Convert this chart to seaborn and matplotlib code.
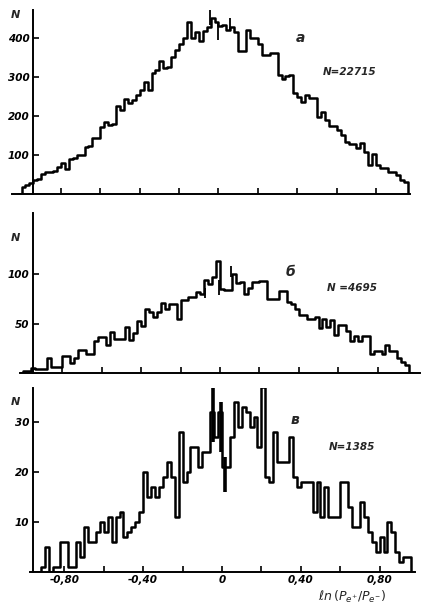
import numpy as np
import pandas as pd
import matplotlib
matplotlib.use("Agg")
import matplotlib.pyplot as plt
import seaborn as sns

# ---- data ----
bin_start = -1.0
bin_width = 0.02

counts_a = [19, 22, 29, 36, 38, 51, 57, 57, 58, 70,
            80, 63, 89, 92, 100, 100, 121, 122, 143, 143,
            173, 185, 177, 180, 226, 215, 243, 233, 240, 254,
            267, 288, 267, 310, 318, 342, 322, 327, 352, 370,
            386, 400, 440, 400, 416, 392, 419, 428, 451, 440,
            430, 433, 421, 429, 416, 368, 368, 420, 399, 399,
            386, 356, 356, 362, 362, 305, 294, 303, 305, 258,
            248, 237, 254, 245, 245, 198, 211, 190, 174, 174,
            164, 151, 134, 128, 128, 117, 130, 109, 74, 103,
            74, 66, 66, 57, 57, 49, 36, 32]

counts_b = [2, 2, 5, 4, 4, 4, 15, 6, 6, 6,
            17, 17, 10, 15, 23, 23, 19, 19, 32, 36,
            36, 28, 42, 34, 34, 34, 47, 33, 40, 53,
            48, 65, 62, 57, 62, 71, 65, 70, 70, 55,
            74, 74, 77, 77, 82, 80, 94, 90, 97, 113,
            85, 84, 84, 100, 91, 92, 80, 86, 92, 92,
            93, 93, 75, 75, 75, 83, 83, 72, 70, 65,
            59, 59, 55, 55, 57, 46, 55, 47, 54, 38,
            49, 49, 43, 32, 37, 32, 37, 37, 19, 22,
            22, 19, 28, 22, 22, 15, 11, 8]

counts_c = [0, 0, 0, 0, 1, 5, 0, 1, 1, 6,
            6, 1, 1, 6, 3, 9, 6, 6, 8, 10,
            8, 11, 6, 11, 12, 7, 8, 9, 10, 12,
            20, 15, 17, 15, 17, 19, 22, 19, 11, 28,
            18, 20, 25, 25, 21, 24, 24, 32, 27, 32,
            21, 21, 27, 34, 29, 33, 32, 29, 31, 25,
            37, 19, 18, 28, 22, 22, 22, 27, 19, 17,
            18, 18, 18, 12, 18, 11, 17, 11, 11, 11,
            18, 18, 13, 9, 9, 14, 11, 8, 6, 4,
            7, 4, 10, 8, 4, 2, 3, 3]

# error-bar like vertical strokes near zero
err_x_a = [-0.043, 0.0, 0.058]
err_lo_a = [433, 395, 420]
err_hi_a = [472, 440, 452]
err_x_b = [-0.076, -0.005, 0.054]
err_lo_b = [76, 79, 97]
err_hi_b = [86, 94, 108]
err_x_c = [-0.046, -0.005, 0.015]
err_lo_c = [26, 24, 16]
err_hi_c = [37, 34, 23]

yticks_a = [100, 200, 300, 400]
yticks_b = [50, 100]
yticks_c = [10, 20, 30]
xticks = [-0.8, -0.6, -0.4, -0.2, 0.0, 0.2, 0.4, 0.6, 0.8]
xticklabels = ["-0,80", "", "-0,40", "", "0", "", "0,40", "", "0,80"]

labels = ["а", "б", "в"]
ntexts = ["N=22715", "N =4695", "N=1385"]

# ---- style ----
sns.set_style("ticks")
plt.rcParams["font.family"] = ["DejaVu Sans"]

W, H = 422, 605
fig = plt.figure(figsize=(W / 100, H / 100), dpi=100)


def make_axes(L, R, T, B):
    return fig.add_axes([L / W, 1 - B / H, (R - L) / W, (B - T) / H])


panels = [
    dict(box=(12, 410, 10, 194), zero=218.5, ymax=472, counts=counts_a, yt=yticks_a,
         ex=err_x_a, elo=err_lo_a, ehi=err_hi_a, ew=1.3,
         lab=(300, 38), nt=(350, 72), Npos=(15, 15)),
    dict(box=(20, 420, 213, 373), zero=220.0, ymax=162, counts=counts_b, yt=yticks_b,
         ex=err_x_b, elo=err_lo_b, ehi=err_hi_b, ew=1.3,
         lab=(291, 272), nt=(352, 288), Npos=(15, 238)),
    dict(box=(30, 415, 388, 572), zero=222.0, ymax=36.8, counts=counts_c, yt=yticks_c,
         ex=err_x_c, elo=err_lo_c, ehi=err_hi_c, ew=2.6,
         lab=(295, 420), nt=(352, 447), Npos=(15, 402)),
]

pxu = 197.0  # pixels per x unit
spine_px = 33

for k, p in enumerate(panels):
    L, R, T, B = p["box"]
    ax = make_axes(L, R, T, B)
    z = p["zero"]
    cnt = [0] + list(p["counts"]) + [0]
    n = len(cnt)
    lo = bin_start - bin_width
    centers = lo + bin_width * (np.arange(n) + 0.5)
    df = pd.DataFrame({"x": centers, "w": np.asarray(cnt, dtype=float)})
    sns.histplot(data=df, x="x", weights="w", binwidth=bin_width,
                 binrange=(lo, lo + n * bin_width), element="step",
                 fill=False, color="black", linewidth=1.8, ax=ax)
    ax.vlines(p["ex"], p["elo"], p["ehi"], color="black", linewidth=p["ew"])

    ax.set_xlim((L - z) / pxu, (R - z) / pxu)
    ax.set_ylim(0, p["ymax"])
    ax.spines["left"].set_position(("data", (spine_px - z) / pxu))
    ax.spines["top"].set_visible(False)
    ax.spines["right"].set_visible(False)
    for s in ("left", "bottom"):
        ax.spines[s].set_linewidth(1.4)
        ax.spines[s].set_color("black")
    ax.set_xlabel("")
    ax.set_ylabel("")
    ax.set_yticks(p["yt"])
    ax.set_yticklabels([str(v) for v in p["yt"]])
    ax.set_xticks(xticks)
    if k == 2:
        ax.set_xticklabels(xticklabels)
    else:
        ax.set_xticklabels([""] * len(xticks))
    ax.tick_params(direction="in", length=4, width=1.2, colors="black",
                   labelsize=7.5, pad=2.5)
    for lbl in ax.get_yticklabels() + ax.get_xticklabels():
        lbl.set_fontweight("bold")
        lbl.set_fontstyle("italic")
    ax.patch.set_alpha(0)

    fig.text(p["Npos"][0] / W, 1 - p["Npos"][1] / H, "N", ha="center", va="center",
             fontsize=8, fontweight="bold", fontstyle="italic")
    fig.text(p["lab"][0] / W, 1 - p["lab"][1] / H, labels[k], ha="center", va="center",
             fontsize=10, fontweight="bold", fontstyle="italic")
    fig.text(p["nt"][0] / W, 1 - p["nt"][1] / H, ntexts[k], ha="center", va="center",
             fontsize=7.5, fontweight="bold", fontstyle="italic")

fig.text(352 / W, 1 - 597 / H, r"$\ell n\,(P_{e^{+}}/P_{e^{-}})$", ha="center",
         va="center", fontsize=9, fontweight="bold")

fig.savefig("out.png", dpi=100, facecolor="white")
